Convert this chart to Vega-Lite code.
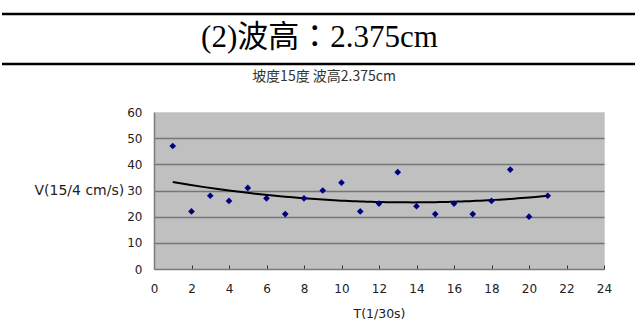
{
  "$schema": "https://vega.github.io/schema/vega-lite/v6.json",
  "padding": {"left": 0, "top": 12, "right": 0, "bottom": 0},
  "spacing": 3,
  "config": {
    "view": {"stroke": null},
    "concat": {"spacing": 0},
    "font": "DejaVu Sans"
  },
  "vconcat": [
    {
      "width": 635,
      "height": 50,
      "layer": [
        {
          "data": {"values": [{"edge": "upper"}, {"edge": "lower"}]},
          "mark": {"type": "rule", "color": "#000000", "strokeWidth": 2.5},
          "encoding": {
            "y": {
              "field": "edge",
              "type": "nominal",
              "sort": ["upper", "lower"],
              "scale": {"type": "point", "padding": 0},
              "axis": null
            }
          }
        },
        {
          "data": {"values": [{"label": "(2)波高：2.375cm"}]},
          "mark": {
            "type": "text",
            "font": "Liberation Serif, Noto Sans CJK TC",
            "fontSize": 31,
            "color": "#000000",
            "baseline": "middle",
            "align": "center",
            "dy": -1
          },
          "encoding": {"text": {"field": "label", "type": "nominal"}}
        }
      ]
    },
    {
      "hconcat": [
        {
          "width": 31,
          "height": 1,
          "data": {"values": []},
          "mark": "point",
          "encoding": {}
        },
        {
          "width": 450,
          "height": 157,
          "title": {
            "text": "坡度15度 波高2.375cm",
            "font": "Noto Sans CJK TC",
            "fontSize": 14,
            "fontWeight": "normal",
            "color": "#333333",
            "offset": 22,
            "dx": -55
          },
          "view": {"fill": "#c0c0c0", "stroke": "#d2d2d2", "strokeWidth": 1},
          "data": {
            "values": [
              {"t": 1, "v": 47}, {"t": 2, "v": 22}, {"t": 3, "v": 28},
              {"t": 4, "v": 26}, {"t": 5, "v": 31}, {"t": 6, "v": 27},
              {"t": 7, "v": 21}, {"t": 8, "v": 27}, {"t": 9, "v": 30},
              {"t": 10, "v": 33}, {"t": 11, "v": 22}, {"t": 12, "v": 25},
              {"t": 13, "v": 37}, {"t": 14, "v": 24}, {"t": 15, "v": 21},
              {"t": 16, "v": 25}, {"t": 17, "v": 21}, {"t": 18, "v": 26},
              {"t": 19, "v": 38}, {"t": 20, "v": 20}, {"t": 21, "v": 28}
            ]
          },
          "encoding": {
            "x": {
              "field": "t",
              "type": "quantitative",
              "scale": {"domain": [0, 24], "nice": false, "zero": false},
              "axis": {
                "title": "T(1/30s)",
                "values": [0, 2, 4, 6, 8, 10, 12, 14, 16, 18, 20, 22, 24],
                "grid": false,
                "domainColor": "#7a7a7a",
                "domainWidth": 1.5,
                "tickColor": "#333333",
                "tickSize": -4,
                "tickWidth": 1,
                "labelFont": "DejaVu Sans",
                "labelFontSize": 12,
                "labelColor": "#222222",
                "labelPadding": 18,
                "labelFlush": false,
                "titleFont": "DejaVu Sans",
                "titleFontSize": 12.5,
                "titleFontWeight": "normal",
                "titleColor": "#222222",
                "titlePadding": 13
              }
            },
            "y": {
              "field": "v",
              "type": "quantitative",
              "scale": {"domain": [0, 60], "nice": false},
              "axis": {
                "title": "V(15/4 cm/s)",
                "values": [0, 10, 20, 30, 40, 50, 60],
                "grid": true,
                "gridColor": "#767676",
                "gridWidth": 1.5,
                "gridOpacity": {
                  "condition": {"test": "datum.value == 0 || datum.value == 60", "value": 0},
                  "value": 1
                },
                "ticks": false,
                "domainColor": "#7a7a7a",
                "domainWidth": 1.5,
                "labelFont": "DejaVu Sans",
                "labelFontSize": 12,
                "labelColor": "#222222",
                "labelPadding": 12,
                "titleFont": "DejaVu Sans",
                "titleFontSize": 14,
                "titleFontWeight": "normal",
                "titleColor": "#222222",
                "titleAngle": 0,
                "titleAlign": "right",
                "titleBaseline": "middle",
                "titlePadding": 3
              }
            }
          },
          "layer": [
            {
              "transform": [
                {"regression": "v", "on": "t", "method": "poly", "order": 2, "extent": [1, 21]}
              ],
              "mark": {"type": "line", "color": "#000000", "strokeWidth": 2}
            },
            {
              "mark": {
                "type": "point",
                "shape": "diamond",
                "filled": true,
                "size": 45,
                "color": "#000080",
                "opacity": 1
              }
            }
          ]
        }
      ]
    }
  ]
}
